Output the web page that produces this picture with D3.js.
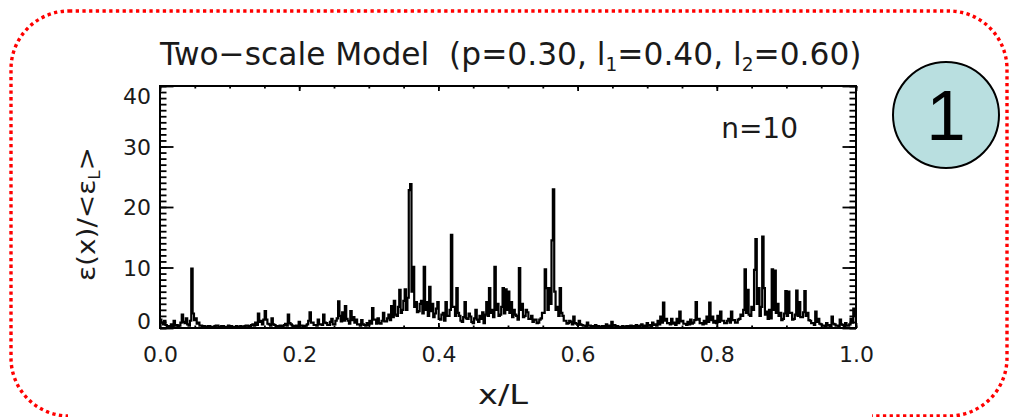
<!DOCTYPE html>
<html>
<head>
<meta charset="utf-8">
<script src="https://cdn.jsdelivr.net/npm/d3@7"></script>
<style>
  html, body { margin: 0; padding: 0; background: #ffffff; }
  svg { display: block; }
</style>
</head>
<body>
<svg id="chart" width="1012" height="417"></svg>
<script>
// Two-scale cascade, n = 10: normalised dissipation ε(x)/<ε_L> on a uniform grid over x/L
const cascadeStep = 10;
const pParam = "0.30";
const l1Param = "0.40";
const l2Param = "0.60";

const xTicks = [0.0, 0.2, 0.4, 0.6, 0.8, 1.0];
const xTickLabels = ["0.0", "0.2", "0.4", "0.6", "0.8", "1.0"];
const yTicks = [0, 10, 20, 30, 40];
const yTickLabels = ["0", "10", "20", "30", "40"];

// cell values, left to right (512 cells, 32 per row)
const energy = [
  1.4,0.9, 0.6,1.2, 0.5,0.3, 0.3,0.2, 0.6,0.3, 1.2,0.4, 0.5,0.3, 0.4,0.9, 2.2,1.0, 0.8,1.6, 0.6,0.4, 1.2,9.8, 2.4,1.3, 1.6,0.7, 0.9,0.4, 0.4,0.3,
  0.3,0.2, 0.2,0.3, 0.3,0.2, 0.2,0.2, 0.3,0.4, 0.4,0.2, 0.2,0.3, 0.3,0.2, 0.2,0.2, 0.4,0.3, 0.3,0.2, 0.2,0.2, 0.3,0.2, 0.2,0.3, 0.2,0.2, 0.3,0.4,
  0.4,0.3, 0.3,0.5, 0.6,0.4, 0.9,0.5, 2.4,1.0, 1.2,0.6, 1.4,2.8, 1.4,0.7, 0.6,0.4, 1.6,0.6, 0.5,0.3, 0.3,0.2, 0.4,0.3, 0.3,0.5, 0.7,0.4, 2.2,0.8,
  0.6,0.4, 0.3,0.2, 0.4,0.3, 1.0,0.4, 0.4,0.3, 0.3,0.4, 0.6,1.2, 2.6,0.9, 0.9,0.5, 0.5,0.4, 1.4,0.6, 0.6,0.5, 2.2,0.9, 0.8,0.5, 0.5,1.0, 1.5,0.6,
  0.6,1.2, 1.6,4.4, 2.0,1.1, 2.6,1.2, 3.6,1.5, 1.2,0.7, 2.8,1.3, 1.8,0.9, 1.4,0.6, 0.6,0.4, 1.3,0.6, 0.5,0.4, 0.8,0.5, 1.2,0.7, 3.3,1.4, 1.4,0.7,
  1.6,0.8, 0.7,1.2, 2.5,1.1, 1.1,1.6, 2.2,1.3, 3.6,1.8, 4.5,2.2, 2.0,3.5, 6.3,2.5, 3.0,4.5, 6.4,3.0, 5.0,22.8, 23.8,6.0, 10.1,3.5, 4.3,2.6, 2.8,4.0,
  4.5,2.4, 10.1,3.0, 4.3,2.0, 6.8,2.8, 4.0,1.8, 2.4,3.2, 4.3,1.5, 1.4,2.2, 2.5,1.2, 4.3,2.0, 2.0,3.0, 15.4,3.5, 3.5,2.0, 6.6,2.5, 2.0,1.2, 1.0,1.8,
  4.3,1.6, 1.5,2.4, 1.9,1.0, 0.8,1.6, 3.0,1.4, 1.0,2.0, 1.5,2.6, 0.8,2.2, 4.3,2.0, 6.6,2.5, 3.0,1.8, 10.1,3.0, 4.0,2.0, 2.2,3.5, 6.6,2.4, 6.4,3.0,
  6.0,2.5, 4.3,1.8, 3.0,2.2, 2.0,1.4, 9.9,3.0, 4.0,1.8, 2.0,3.0, 2.6,1.5, 1.5,2.0, 1.0,1.4, 1.4,0.8, 0.9,1.4, 1.6,2.5, 2.5,9.7, 6.6,3.0, 6.6,4.0,
  14.5,22.9, 6.0,3.0, 3.5,2.0, 6.6,2.5, 2.0,1.2, 1.2,0.7, 0.8,1.2, 1.0,0.6, 1.9,0.8, 0.7,0.5, 1.2,0.6, 0.5,0.4, 0.4,0.3, 0.9,0.4, 0.4,0.3, 0.3,0.2,
  0.5,0.3, 0.3,0.2, 0.2,0.3, 0.3,0.2, 0.6,0.3, 0.4,0.3, 1.0,0.4, 0.5,0.3, 0.3,0.2, 0.2,0.2, 0.3,0.2, 0.2,0.3, 0.3,0.2, 0.4,0.3, 0.3,0.2, 0.5,0.3,
  0.3,0.4, 0.6,0.3, 0.4,0.3, 0.8,0.4, 0.5,0.3, 0.9,0.5, 0.6,0.4, 1.2,0.6, 1.9,0.9, 4.2,1.2, 1.5,0.8, 0.8,0.6, 1.5,0.7, 0.9,0.5, 1.5,0.8, 2.7,1.1,
  1.2,0.7, 0.7,0.5, 1.0,0.6, 1.4,0.7, 0.9,1.3, 4.3,1.4, 1.5,0.8, 0.8,0.6, 1.2,0.7, 1.9,1.0, 4.2,1.3, 1.9,0.9, 1.2,0.8, 2.0,1.0, 2.7,1.2, 1.2,0.8,
  0.8,1.2, 1.5,0.9, 2.7,1.3, 1.3,0.9, 0.9,1.4, 1.5,2.2, 2.0,3.0, 9.7,2.5, 6.3,2.2, 2.0,3.5, 3.0,9.6, 14.7,4.0, 6.6,2.0, 3.5,15.1, 6.6,2.2, 2.7,1.5,
  3.0,1.6, 9.7,3.0, 9.5,2.5, 4.0,2.0, 2.5,1.3, 1.5,2.4, 6.1,2.0, 6.0,2.5, 2.5,1.4, 1.5,2.2, 6.2,2.0, 4.3,1.8, 1.8,2.6, 6.1,2.0, 2.5,1.3, 1.2,0.8,
  0.8,0.5, 2.7,1.0, 1.5,0.7, 0.6,0.4, 0.4,0.3, 0.8,0.4, 0.5,0.3, 1.9,0.7, 0.6,0.4, 0.4,0.3, 1.4,0.6, 0.5,0.3, 0.8,0.4, 0.4,0.6, 1.5,0.9, 3.2,2.0
];

const panelNumber = "1";

const svg = d3.select("#chart");
const plot = { left: 160, right: 856, top: 86, bottom: 328 };
const FONT = "'DejaVu Sans', 'Liberation Sans', sans-serif";

const x = d3.scaleLinear().domain([0, 1]).range([plot.left, plot.right]);
const y = d3.scaleLinear().domain([0, 40]).range([plot.bottom, plot.top]);

// stretch a text element horizontally so it spans a given width
function placeText(sel, tx, ty, rot, targetWidth) {
  const len = sel.node().getComputedTextLength();
  const s = targetWidth ? targetWidth / len : 1;
  sel.attr("transform", `translate(${tx},${ty}) rotate(${rot}) scale(${s},1)`);
}

// red dotted rounded border
svg.append("rect")
  .attr("x", 11).attr("y", 11)
  .attr("width", 996).attr("height", 405)
  .attr("rx", 58).attr("ry", 58)
  .attr("fill", "none")
  .attr("stroke", "#ff0000")
  .attr("stroke-width", 3.4)
  .attr("stroke-dasharray", "3.3 3.4");

// white label box below the axis covers part of the border
svg.append("rect")
  .attr("x", 68).attr("y", 372)
  .attr("width", 804).attr("height", 50)
  .attr("fill", "#ffffff");

// title
const title = svg.append("text")
  .attr("font-family", FONT)
  .attr("font-size", 32)
  .attr("fill", "#1a1a1a")
  .attr("text-anchor", "start");
title.append("tspan").text("Two\u2212scale Model\u00a0\u00a0(p=" + pParam + ", l");
title.append("tspan").attr("font-size", 19).attr("dy", 6).text("1");
title.append("tspan").attr("dy", -6).text("=" + l1Param + ", l");
title.append("tspan").attr("font-size", 19).attr("dy", 6).text("2");
title.append("tspan").attr("dy", -6).text("=" + l2Param + ")");
placeText(title, 160, 65, 0, 702);

// clip for the trace
svg.append("clipPath").attr("id", "plotClip")
  .append("rect")
  .attr("x", plot.left).attr("y", plot.top)
  .attr("width", plot.right - plot.left).attr("height", plot.bottom - plot.top);

// histogram-style step trace
const N = energy.length;
const pts = energy.map((v, i) => ({ x: i / N, v }));
pts.push({ x: 1, v: energy[N - 1] });
const line = d3.line()
  .x(d => x(d.x))
  .y(d => y(d.v))
  .curve(d3.curveStepAfter);

svg.append("path")
  .datum(pts)
  .attr("clip-path", "url(#plotClip)")
  .attr("d", line)
  .attr("fill", "none")
  .attr("stroke", "#000")
  .attr("stroke-width", 2.2)
  .attr("stroke-linejoin", "miter");

// axes (ticks pointing inward)
const g = svg.append("g");
const axisStyle = sel => {
  sel.select(".domain").remove();
  sel.selectAll("line").attr("stroke", "#000").attr("stroke-width", 1.8);
  sel.selectAll("text").attr("font-family", FONT).attr("font-size", 22).attr("fill", "#1a1a1a");
};

const xMinor = d3.range(0, 1.0001, 0.05);
const yMinor = d3.range(0, 40.0001, 1);

// bottom
g.append("g").attr("transform", `translate(0,${plot.bottom})`)
  .call(d3.axisBottom(x).tickValues(xMinor).tickSize(-2.5).tickFormat(""))
  .call(axisStyle);
g.append("g").attr("transform", `translate(0,${plot.bottom})`)
  .call(d3.axisBottom(x).tickValues(xTicks).tickSize(-5).tickPadding(12)
    .tickFormat((d, i) => xTickLabels[i]))
  .call(axisStyle)
  .call(s => s.selectAll("text").attr("dy", "1.0em"));
// top
g.append("g").attr("transform", `translate(0,${plot.top})`)
  .call(d3.axisTop(x).tickValues(xMinor).tickSize(-2.5).tickFormat(""))
  .call(axisStyle);
g.append("g").attr("transform", `translate(0,${plot.top})`)
  .call(d3.axisTop(x).tickValues(xTicks).tickSize(-5).tickFormat(""))
  .call(axisStyle);
// left
g.append("g").attr("transform", `translate(${plot.left},0)`)
  .call(d3.axisLeft(y).tickValues(yMinor).tickSize(-6.5).tickFormat(""))
  .call(axisStyle);
g.append("g").attr("transform", `translate(${plot.left},0)`)
  .call(d3.axisLeft(y).tickValues(yTicks).tickSize(-13.5).tickPadding(9)
    .tickFormat((d, i) => yTickLabels[i]))
  .call(axisStyle)
  .call(s => s.selectAll("text")
    .attr("dy", d => d === 40 ? "0.78em" : (d === 0 ? "0.0em" : "0.35em")));
// right
g.append("g").attr("transform", `translate(${plot.right},0)`)
  .call(d3.axisRight(y).tickValues(yMinor).tickSize(-6.5).tickFormat(""))
  .call(axisStyle);
g.append("g").attr("transform", `translate(${plot.right},0)`)
  .call(d3.axisRight(y).tickValues(yTicks).tickSize(-13.5).tickFormat(""))
  .call(axisStyle);

// frame
svg.append("rect")
  .attr("x", plot.left).attr("y", plot.top)
  .attr("width", plot.right - plot.left).attr("height", plot.bottom - plot.top)
  .attr("fill", "none").attr("stroke", "#000").attr("stroke-width", 2);

// y-axis title
const yTitle = svg.append("text")
  .attr("font-family", FONT).attr("font-size", 25).attr("fill", "#1a1a1a")
  .attr("text-anchor", "middle");
yTitle.append("tspan").text("\u03b5(x)/<\u03b5");
yTitle.append("tspan").attr("font-size", 15).attr("dy", 5).text("L");
yTitle.append("tspan").attr("dy", -5).text(">");
placeText(yTitle, 95, 214, -90, 134);

// x-axis title
const xTitle = svg.append("text")
  .attr("font-family", FONT).attr("font-size", 26).attr("fill", "#1a1a1a")
  .attr("text-anchor", "middle")
  .text("x/L");
placeText(xTitle, 503, 404, 0, 50);

// cascade step annotation
svg.append("text")
  .attr("x", 798).attr("y", 138)
  .attr("font-family", FONT).attr("font-size", 28).attr("fill", "#1a1a1a")
  .attr("text-anchor", "end")
  .text("n=" + cascadeStep);

// panel badge
svg.append("circle")
  .attr("cx", 946).attr("cy", 115).attr("r", 53)
  .attr("fill", "#b9dfe0").attr("stroke", "#000").attr("stroke-width", 2);
svg.append("text")
  .attr("x", 946).attr("y", 140)
  .attr("font-family", "'Liberation Sans', Arial, sans-serif")
  .attr("font-size", 71).attr("fill", "#000")
  .attr("text-anchor", "middle")
  .text(panelNumber);
</script>
</body>
</html>
